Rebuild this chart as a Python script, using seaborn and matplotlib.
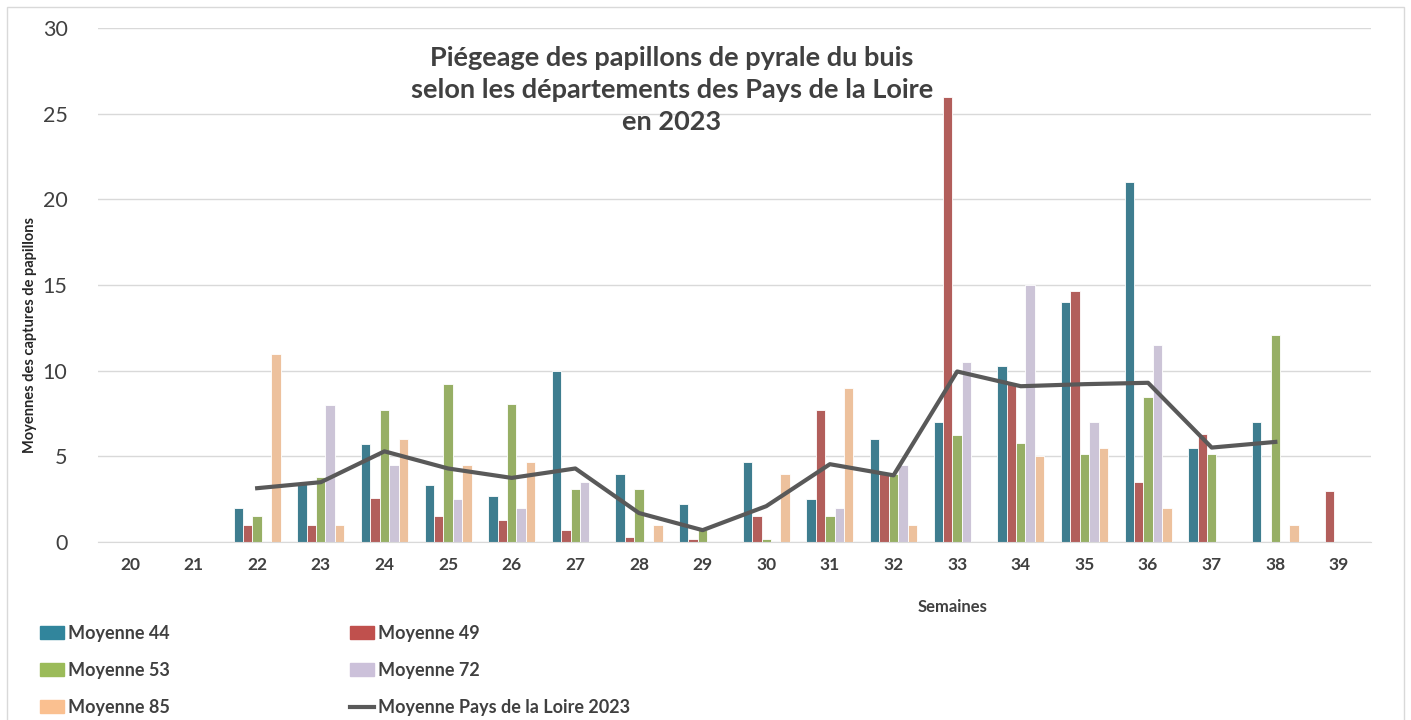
import matplotlib
matplotlib.use('Agg')
import matplotlib.pyplot as plt
import matplotlib.patches as mpatches
from matplotlib.lines import Line2D
import seaborn as sns
import pandas as pd
import numpy as np

nan = np.nan
semaines = list(range(20, 40))

moy_44 = [nan, nan, 2.0, 3.4, 5.7, 3.35, 2.7, 10.0, 4.0, 2.25, 4.7, 2.5, 6.0, 7.0, 10.3, 14.0, 21.0, 5.5, 7.0, nan]
moy_49 = [nan, nan, 1.0, 1.0, 2.6, 1.5, 1.3, 0.7, 0.3, 0.2, 1.5, 7.7, 4.0, 26.0, 9.3, 14.65, 3.5, 6.3, nan, 3.0]
moy_53 = [nan, nan, 1.5, 3.8, 7.7, 9.25, 8.05, 3.1, 3.1, 0.7, 0.2, 1.5, 4.0, 6.25, 5.8, 5.15, 8.5, 5.15, 12.1, nan]
moy_72 = [nan, nan, nan, 8.0, 4.5, 2.5, 2.0, 3.5, nan, nan, nan, 2.0, 4.5, 10.5, 15.0, 7.0, 11.5, nan, nan, nan]
moy_85 = [nan, nan, 11.0, 1.0, 6.0, 4.5, 4.7, nan, 1.0, nan, 4.0, 9.0, 1.0, nan, 5.0, 5.5, 2.0, nan, 1.0, nan]
moy_pdl = [nan, nan, 3.15, 3.5, 5.3, 4.3, 3.75, 4.3, 1.7, 0.7, 2.1, 4.55, 3.9, 9.96, 9.1, 9.22, 9.3, 5.52, 5.85, nan]

series = ['Moyenne 44', 'Moyenne 49', 'Moyenne 53', 'Moyenne 72', 'Moyenne 85']
couleurs = ['#31859C', '#C0504D', '#9BBB59', '#CCC1DA', '#FAC090']
couleur_ligne = '#595959'

rows = []
for nom, vals in zip(series, [moy_44, moy_49, moy_53, moy_72, moy_85]):
    for s, v in zip(semaines, vals):
        rows.append({'semaine': str(s), 'serie': nom, 'valeur': v})
df = pd.DataFrame(rows).dropna()

plt.rcParams['font.family'] = ['Lato', 'DejaVu Sans']

fig = plt.figure(figsize=(14.11, 7.2), dpi=100)
ax = fig.add_axes([0.0695, 0.247, 0.902, 0.714])

sns.barplot(data=df, x='semaine', y='valeur', hue='serie', order=[str(s) for s in semaines],
            hue_order=series, palette=couleurs, width=0.74, edgecolor='white', linewidth=0.6,
            errorbar=None, legend=False, ax=ax)

pos = [i for i, v in enumerate(moy_pdl) if not np.isnan(v)]
sns.lineplot(x=pos, y=[moy_pdl[i] for i in pos], color=couleur_ligne, linewidth=3, ax=ax)

ax.set_xlim(-0.5, 19.5)
ax.set_ylim(0, 30)
ax.set_yticks(range(0, 31, 5))
ax.yaxis.grid(True, color='#d9d9d9', linewidth=1)
ax.set_axisbelow(True)
for sp in ['top', 'right', 'left']:
    ax.spines[sp].set_visible(False)
ax.spines['bottom'].set_color('#d9d9d9')
ax.tick_params(axis='y', length=0, pad=22, labelsize=15.5, labelcolor='#404040')
ax.tick_params(axis='x', length=0, pad=11, labelsize=12.5, labelcolor='#404040')
for lab in ax.get_xticklabels():
    lab.set_fontweight('bold')
ax.set_xlabel('')
ax.set_ylabel('')

fig.text(0.0215, 0.535, 'Moyennes des captures de papillons', rotation=90, ha='center', va='center',
         fontsize=10.5, fontweight='bold', color='#262626')
fig.text(0.675, 0.157, 'Semaines', ha='center', va='center', fontsize=12, fontweight='bold', color='#404040')
fig.text(0.476, 0.875, 'Piégeage des papillons de pyrale du buis\nselon les départements des Pays de la Loire\nen 2023',
         ha='center', va='center', fontsize=19.5, fontweight='bold', color='#404040', linespacing=1.4)

handles = [mpatches.Patch(color=c, label=n) for c, n in zip(couleurs, series)]
ligne = Line2D([0], [0], color=couleur_ligne, linewidth=3, label='Moyenne Pays de la Loire 2023')
ordre = [handles[0], handles[2], handles[4], handles[1], handles[3], ligne]
leg = fig.legend(handles=ordre, labels=[h.get_label() for h in ordre], ncol=2, loc='upper left',
                 bbox_to_anchor=(0.0165, 0.155), frameon=False, handlelength=1.35, handleheight=0.7,
                 handletextpad=0.2, columnspacing=10.0, labelspacing=1.12,
                 prop={'weight': 'bold', 'size': 13})
for t in leg.get_texts():
    t.set_color('#404040')

fig.patches.append(mpatches.Rectangle((0.005, -0.01), 0.99, 1.0, transform=fig.transFigure,
                                      fill=False, edgecolor='#d9d9d9', linewidth=1))

fig.savefig('out.png', dpi=100)
